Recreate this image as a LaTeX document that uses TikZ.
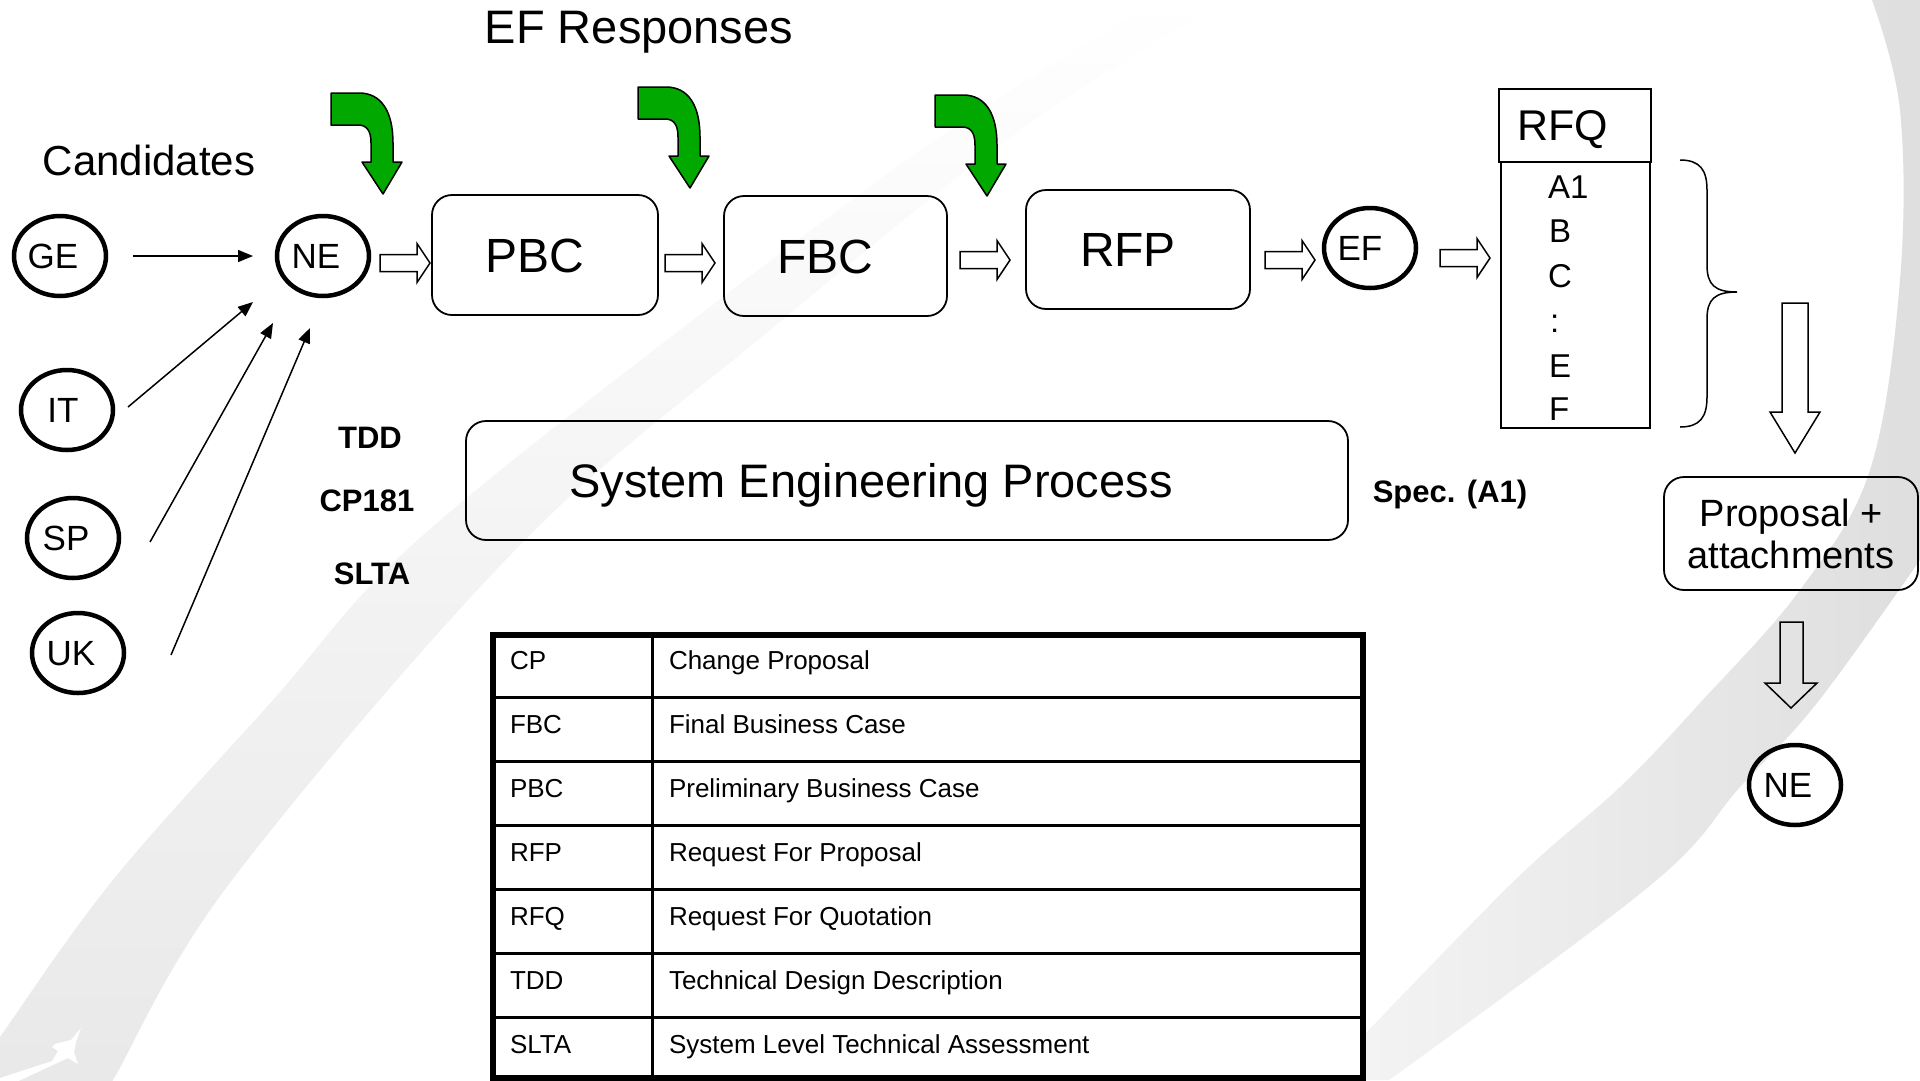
\documentclass[tikz,border=0pt]{standalone}
\usepackage{fontspec}
\setmainfont{Liberation Sans}
\usetikzlibrary{shapes.geometric, arrows.meta, calc}
\definecolor{arrgreen}{RGB}{0,168,0}
\tikzset{
  every node/.style={inner sep=0pt, outer sep=0pt},
  circ/.style={ellipse, draw, line width=4.5pt, minimum width=92pt, minimum height=80pt,
    font=\fontsize{35}{42}\selectfont, text height=25.1pt, text depth=0pt},
  rbox/.style={draw, rounded corners=20pt, line width=1.8pt},
  bigtxt/.style={font=\fontsize{48}{56}\selectfont, text height=34.4pt, text depth=0pt},
  lbl/.style={font=\bfseries\fontsize{31}{36}\selectfont, text height=22.2pt, text depth=0pt},
  tcell/.style={anchor=west, font=\fontsize{26}{30}\selectfont, text height=18.6pt, text depth=0pt},
  rfqitem/.style={anchor=base west, font=\fontsize{33}{40}\selectfont},
  thinarr/.style={line width=1.5pt, -{Triangle[length=15pt, width=12pt]}},
  blk/.style={line width=1.5pt, line join=miter},
  greenarr/.pic={
    \draw[line width=1.5pt, fill=arrgreen, line join=round]
      (0,0) -- (28,0) .. controls (50,0) and (62,18) .. (62,50) -- (62,69) -- (71,69)
      -- (52,101) -- (31,69) -- (40,69) -- (40,50) .. controls (40,38) and (36,32) .. (27,32)
      -- (0,32) -- cycle;
  },
  rblk/.pic={
    \draw[blk] (-25,-8.5) -- (12,-8.5) -- (12,-19.5) -- (25,0) -- (12,19.5) -- (12,8.5) -- (-25,8.5) -- cycle;
  },
}
\begin{document}
\begin{tikzpicture}[x=1pt, y=-1pt]
\useasboundingbox (0,0) rectangle (1920,1080);
\fill[white] (0,0) rectangle (1920,1080);
% background swooshes
\begin{scope}
\clip (0,0) rectangle (1920,1080);
\shade[top color=white, middle color=black!4, bottom color=black!9]
  plot[smooth, tension=0.6] coordinates {(-40,1095) (0,1037) (113,880) (273,700) (410,547) (667,340) (950,130) (1180,-10)}
  -- plot[smooth, tension=0.6] coordinates {(1240,-10) (1020,130) (770,330) (520,545) (232,880) (113,1080) (100,1100)}
  -- cycle;
\shade[left color=black!4, right color=black!13]
  plot[smooth, tension=0.6] coordinates {(1321,1080) (1511,884) (1620,787) (1700,703) (1800,590) (1870,470) (1900,280) (1900,110) (1872,0)}
  -- (1872,-10) -- (1930,-10) -- (1930,550)
  -- plot[smooth, tension=0.6] coordinates {(1920,560) (1817,703) (1740,787) (1652,884) (1389,1080)}
  -- cycle;
\fill[white] (81,1028) -- (76,1042) -- (74,1052) -- (78,1064) -- (73,1061) -- (68,1058) -- (10,1085)
  -- (0,1085) -- (0,1078) -- (52,1061) -- (58,1051) -- (52,1047) -- (55,1044) -- (71,1040) -- cycle;
\end{scope}

% titles
\node[font=\fontsize{47}{56}\selectfont, text height=33.7pt, text depth=0pt] (title) at (639,27) {EF Responses};
\node[font=\fontsize{42}{50}\selectfont, text height=30pt, text depth=0pt] (cand) at (149,160) {Candidates};

% candidate circles
\node[circ] (GE) at (60,256) {\hspace*{-14pt}GE};
\node[circ] (NE) at (323,256) {\hspace*{-14pt}NE};
\node[circ] (IT) at (67,410) {\hspace*{-8pt}IT};
\node[circ] (SP) at (73,538) {\hspace*{-14pt}SP};
\node[circ] (UK) at (78,653) {\hspace*{-14pt}UK};
\node[circ] (EF) at (1370,248) {\hspace*{-20pt}EF};
\node[circ] (NE2) at (1795,785) {\hspace*{-14pt}NE};

% process boxes
\node[rbox, bigtxt, minimum width=226pt, minimum height=120pt] (PBC) at (545,255) {\hspace*{-20pt}PBC};
\node[rbox, bigtxt, minimum width=223pt, minimum height=120pt] (FBC) at (835.5,256) {\hspace*{-20pt}FBC};
\node[rbox, bigtxt, minimum width=224pt, minimum height=119pt] (RFP) at (1138,249.5) {\hspace*{-20pt}RFP};
\node[rbox, font=\fontsize{47}{56}\selectfont, text height=33.7pt, text depth=0pt,
      minimum width=882pt, minimum height=119pt] (SEP) at (907,480.5) {\hspace*{-72pt}System Engineering Process};
\node[rbox, minimum width=254pt, minimum height=113pt, align=center,
      font=\fontsize{38}{42}\selectfont] (PROP) at (1791,533.5) {Proposal +\\attachments};

% side labels
\node[lbl] (tdd) at (370,437) {TDD};
\node[lbl] (cp181) at (367,500) {CP181};
\node[lbl] (slta) at (372,573) {SLTA};
\node[lbl] (spec) at (1450,491) {Spec. (A1)};

% RFQ list
\node[draw, line width=2.5pt, minimum width=152pt, minimum height=73pt,
      font=\fontsize{43}{50}\selectfont, text height=30.8pt, text depth=0pt] (rfqh) at (1575,125.5) {\hspace*{-24pt}RFQ};
\node[draw, line width=1.5pt, minimum width=149pt, minimum height=266pt] (rfqb) at (1575.5,295) {};
\node[rfqitem] (iA) at (1548,198) {A1};
\node[rfqitem] (iB) at (1549,242) {B};
\node[rfqitem] (iC) at (1548,287) {C};
\node[rfqitem] (iD) at (1550,332) {:};
\node[rfqitem] (iE) at (1549,377) {E};
\node[rfqitem] (iF) at (1549,420) {F};

% brace
\draw[line width=1.5pt] (1680,160) .. controls (1700,160) and (1707,170) .. (1707,190) -- (1707,265)
  .. controls (1707,285) and (1715,292) .. (1737,292)
  .. controls (1715,292) and (1707,299) .. (1707,319) -- (1707,397)
  .. controls (1707,417) and (1700,427) .. (1680,427);

% green response arrows
\pic at (331,93) {greenarr};
\pic at (638,87) {greenarr};
\pic at (935,95) {greenarr};

% thin arrows to NE
\coordinate (itS) at (128,407);
\coordinate (itE) at (253,302);
\coordinate (spS) at (150,542);
\coordinate (spE) at (273,323);
\coordinate (ukS) at (171,655);
\coordinate (ukE) at (310,328);
\draw[thinarr, shorten <=27pt, shorten >=24pt] (GE) -- (NE);
\draw[thinarr] (itS) -- (itE);
\draw[thinarr] (spS) -- (spE);
\draw[thinarr] (ukS) -- (ukE);

% hollow block arrows
\pic at (405,263) {rblk};
\pic at (690,263) {rblk};
\pic at (985,260) {rblk};
\pic at (1290,260) {rblk};
\pic at (1465,258) {rblk};
\draw[blk] (1782,303) -- (1808,303) -- (1808,412) -- (1820,412) -- (1795,453) -- (1770,412) -- (1782,412) -- cycle;
\draw[blk] (1780,622) -- (1803,622) -- (1803,683) -- (1817,683) -- (1791,708) -- (1765,683) -- (1780,683) -- cycle;

% glossary table
\fill[white] (493,635) rectangle (1363,1078);
\draw[line width=3pt] (652,635) -- (652,1078);
\foreach \yy in {697,761,825,889,953,1017} \draw[line width=3pt] (493,\yy) -- (1363,\yy);
\draw[line width=5.5pt] (493,635) rectangle (1363,1078);
\foreach \i/\a/\b in {0/CP/Change Proposal, 1/FBC/Final Business Case, 2/PBC/Preliminary Business Case,
  3/RFP/Request For Proposal, 4/RFQ/Request For Quotation, 5/TDD/Technical Design Description,
  6/SLTA/System Level Technical Assessment} {
  \node[tcell] (ta\i) at (510,{660+64*\i}) {\a};
  \node[tcell] (tb\i) at (669,{660+64*\i}) {\b};
}
\end{tikzpicture}
\end{document}
